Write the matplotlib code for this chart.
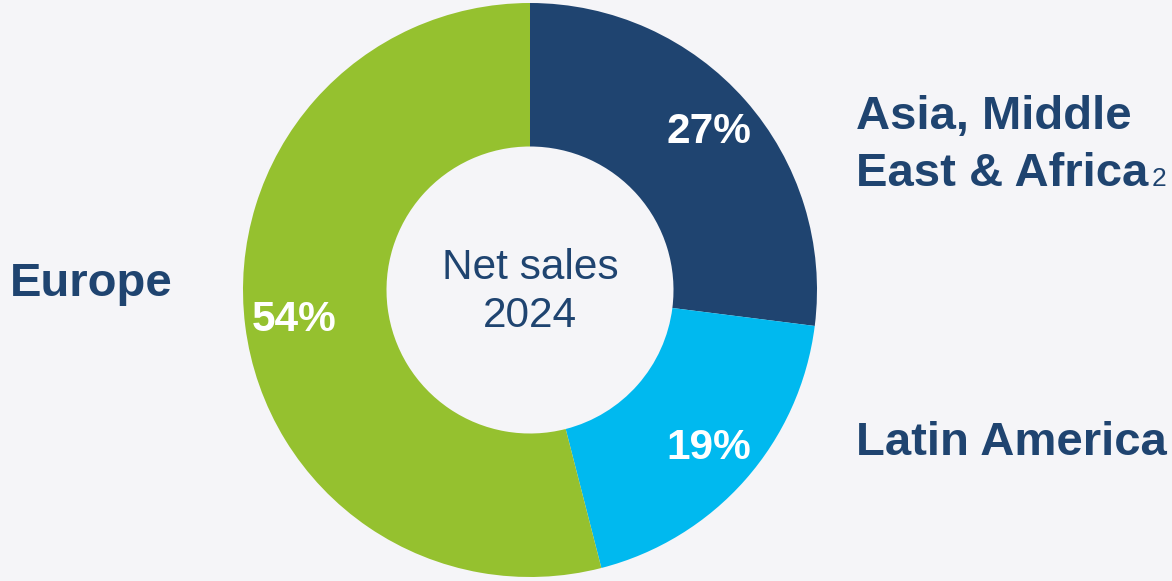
import matplotlib.pyplot as plt

# Net sales 2024 split by region
regions = ["Asia, Middle\nEast & Africa", "Latin America", "Europe"]
shares = [27, 19, 54]
colors = ["#1f4470", "#00b9ef", "#95c12f"]
centre_text = "Net sales\n2024"

BG = "#f5f5f8"
NAVY = "#1f4470"
W, H = 1172, 581

plt.rcParams["font.family"] = ["Liberation Sans", "DejaVu Sans"]

fig = plt.figure(figsize=(W / 100, H / 100), dpi=100, facecolor=BG)
ax = fig.add_axes([0, 0, 1, 1])
ax.set_facecolor(BG)

cx, cy, r = 530, H - 290, 287
wedges, _, pcts = ax.pie(
    shares, colors=colors, startangle=90, counterclock=False,
    center=(cx, cy), radius=r, frame=True,
    wedgeprops=dict(width=r * 0.5, linewidth=0),
    autopct=lambda p: f"{p:.0f}%", pctdistance=0.83,
    textprops=dict(color="white", fontsize=30.5, fontweight="bold"),
)
ax.set_xlim(0, W)
ax.set_ylim(0, H)
ax.set_aspect("equal")
ax.axis("off")

ax.text(cx, cy - 2, centre_text, ha="center", va="center", fontsize=30.5,
        color=NAVY, linespacing=1.28)

label_kw = dict(color=NAVY, fontsize=34, fontweight="bold", va="baseline", ha="left")
asia_lines = regions[0].split("\n")
ax.text(856, H - 129, asia_lines[0], **label_kw)
asia2 = ax.text(856, H - 186, asia_lines[1], **label_kw)
ax.text(856, H - 455, regions[1], **label_kw)
ax.text(10, H - 296, regions[2], **label_kw)

# footnote marker sits on the baseline right after "Africa"
fig.canvas.draw()
bb = asia2.get_window_extent()
x_end = ax.transData.inverted().transform((bb.x1, bb.y0))[0]
ax.text(x_end + 3, H - 186, "2", ha="left", va="baseline", fontsize=19, color=NAVY)

fig.savefig("out.png", dpi=100, facecolor=BG)
